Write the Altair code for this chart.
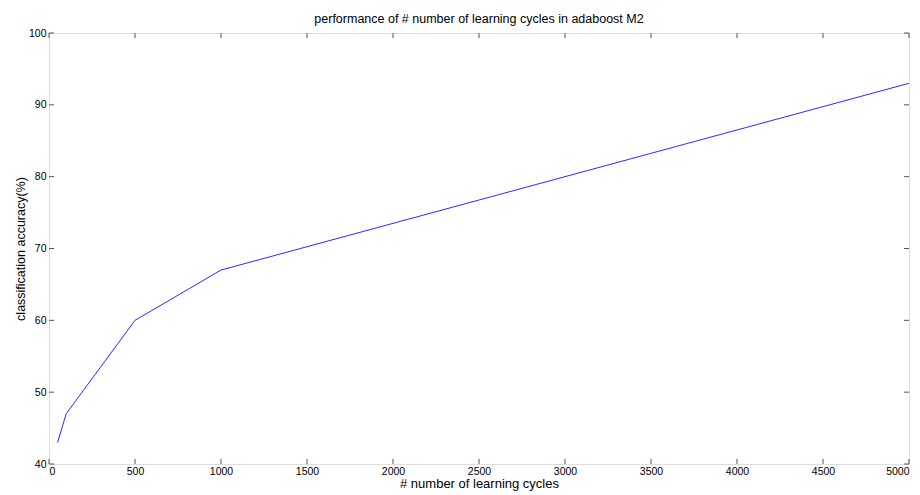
import altair as alt
import pandas as pd

cycles = [50, 100, 500, 1000, 5000]
accuracy = [43, 47, 60, 67, 93]
x_ticks = [0, 500, 1000, 1500, 2000, 2500, 3000, 3500, 4000, 4500, 5000]
y_ticks = [40, 50, 60, 70, 80, 90, 100]

W, H = 860, 431
TL = 5
AX = "#555555"
FONT = "Liberation Sans"

df = pd.DataFrame({"cycles": cycles, "accuracy": accuracy})
xt = pd.DataFrame({"v": x_ticks})
yt = pd.DataFrame({"v": y_ticks})

xs = alt.Scale(domain=[0, 5000], nice=False, zero=False)
ys = alt.Scale(domain=[40, 100], nice=False, zero=False)

line = alt.Chart(df).mark_line(color="#2B2BFF", strokeWidth=1, clip=True).encode(
    x=alt.X("cycles:Q", scale=xs, title="# number of learning cycles",
            axis=alt.Axis(values=x_ticks, format="d", domain=False, ticks=False, grid=False,
                          labelFont=FONT, labelFontSize=10.5, labelColor="#000",
                          labelPadding=2, titleFont=FONT, titleFontSize=13,
                          titleFontWeight="normal", titleColor="#000", titlePadding=1)),
    y=alt.Y("accuracy:Q", scale=ys, title="classification accuracy(%)",
            axis=alt.Axis(values=y_ticks, format="d", domain=False, ticks=False, grid=False,
                          labelFont=FONT, labelFontSize=10.5, labelColor="#000",
                          labelPadding=3, titleFont=FONT, titleFontSize=12.5,
                          titleFontWeight="normal", titleColor="#000", titlePadding=1)),
)

xb = alt.Chart(xt).mark_rule(color=AX, strokeWidth=1).encode(
    x=alt.X("v:Q", scale=xs), y=alt.value(H), y2=alt.value(H - TL))
xtp = alt.Chart(xt).mark_rule(color=AX, strokeWidth=1).encode(
    x=alt.X("v:Q", scale=xs), y=alt.value(0), y2=alt.value(TL))
yl = alt.Chart(yt).mark_rule(color=AX, strokeWidth=1).encode(
    y=alt.Y("v:Q", scale=ys), x=alt.value(0), x2=alt.value(TL))
yr = alt.Chart(yt).mark_rule(color=AX, strokeWidth=1).encode(
    y=alt.Y("v:Q", scale=ys), x=alt.value(W), x2=alt.value(W - TL))

chart = alt.layer(line, xb, xtp, yl, yr).properties(
    width=W, height=H,
    title=alt.TitleParams("performance of # number of learning cycles in adaboost M2",
                          font=FONT, fontSize=12.5, fontWeight="normal", color="#000", offset=3),
    autosize=alt.AutoSizeParams(type="none"),
    padding={"left": 41, "top": 25, "right": 3, "bottom": 31},
).configure_view(stroke=AX, strokeWidth=1).configure(background="white")

chart.save("out.html", embed_options={"renderer": "svg", "actions": False})
